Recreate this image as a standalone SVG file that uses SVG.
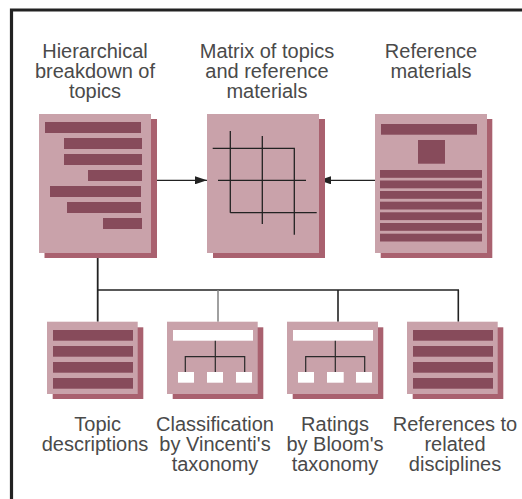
<svg xmlns="http://www.w3.org/2000/svg" width="522" height="499" viewBox="0 0 522 499">
<defs>
<style>
.lbl{font-family:"Liberation Sans",Arial,sans-serif;font-size:20px;fill:#4a4a4a;text-anchor:middle}
.front{fill:#c9a2aa}
.shadow{fill:#a9616f}
.bar{fill:#874b5b}
.wbar{fill:#ffffff}
.grid{stroke:#222;stroke-width:1.3;fill:none}
.tree{stroke:#2a2a2a;stroke-width:1.2;fill:none}
.conn{stroke:#222;fill:none}
</style>
<marker id="ah" viewBox="0 0 12 8" refX="12" refY="4" markerWidth="12" markerHeight="8" markerUnits="userSpaceOnUse" orient="auto">
<path d="M0,0 L12,4 L0,8 Z" fill="#222"/>
</marker>
</defs>
<rect width="522" height="499" fill="#ffffff"/>
<g id="frame">
<path d="M11.5,499 V10 H522" fill="none" stroke="#222" stroke-width="3.2"/>
</g>

<g id="connectors">
<line class="conn" x1="151" y1="180.3" x2="207" y2="180.3" stroke-width="1.3" marker-end="url(#ah)"/>
<line class="conn" x1="375" y1="180.3" x2="319" y2="180.3" stroke-width="1.3" marker-end="url(#ah)"/>
<line class="conn" x1="97.7" y1="258" x2="97.7" y2="321.7" stroke-width="1.8"/>
<line class="conn" x1="97.7" y1="290" x2="459" y2="290" stroke-width="1.4"/>
<line x1="218" y1="290" x2="218" y2="321.7" stroke="#808080" stroke-width="1.5"/>
<line class="conn" x1="338" y1="290" x2="338" y2="321.7" stroke-width="1.6"/>
<line class="conn" x1="458.3" y1="290" x2="458.3" y2="321.7" stroke-width="1.6"/>
</g>

<g id="hierarchical">
<text class="lbl" x="95" y="57.5">Hierarchical</text>
<text class="lbl" x="95" y="78">breakdown of</text>
<text class="lbl" x="95" y="98">topics</text>
<rect class="shadow" x="44.5" y="119" width="112.5" height="139"/>
<rect class="front" x="39" y="114" width="112" height="139"/>
<rect class="bar" x="45" y="122" width="96" height="11"/>
<rect class="bar" x="64" y="138" width="78" height="11"/>
<rect class="bar" x="64" y="154" width="78" height="11"/>
<rect class="bar" x="88" y="170" width="54" height="11"/>
<rect class="bar" x="50" y="186" width="91" height="11"/>
<rect class="bar" x="67" y="202" width="74" height="11"/>
<rect class="bar" x="103" y="218" width="39" height="11"/>
</g>

<g id="matrix">
<text class="lbl" x="267" y="57.5">Matrix of topics</text>
<text class="lbl" x="267" y="78">and reference</text>
<text class="lbl" x="267" y="98">materials</text>
<rect class="shadow" x="213" y="119" width="112" height="139"/>
<rect class="front" x="207" y="114" width="112" height="139"/>
<path class="grid" d="M230.3,131 V212.7 M262.3,136 V224 M294.3,147.7 V234.7 M212.7,148.3 H294.3 M218,180.3 H306 M230.3,212.7 H316.7"/>
</g>

<g id="reference">
<text class="lbl" x="431" y="57.5">Reference</text>
<text class="lbl" x="431" y="78">materials</text>
<rect class="shadow" x="380.7" y="119" width="111.6" height="139"/>
<rect class="front" x="375" y="114" width="112" height="139"/>
<rect class="bar" x="381" y="124" width="96" height="10.7"/>
<rect class="bar" x="418" y="140" width="27" height="23.7"/>
<rect class="bar" x="380" y="170" width="102" height="7.8"/>
<rect class="bar" x="380" y="180.5" width="102" height="7.8"/>
<rect class="bar" x="380" y="191" width="102" height="7.8"/>
<rect class="bar" x="380" y="201.7" width="102" height="7.8"/>
<rect class="bar" x="380" y="212.3" width="102" height="7.8"/>
<rect class="bar" x="380" y="223" width="102" height="7.8"/>
<rect class="bar" x="380" y="233.7" width="102" height="7.8"/>
</g>

<g id="topic-descriptions">
<rect class="shadow" x="52.7" y="327.3" width="90.6" height="71.7"/>
<rect class="front" x="47" y="321.7" width="90.7" height="72.3"/>
<rect class="bar" x="53" y="330" width="80" height="10.7"/>
<rect class="bar" x="53" y="346" width="80" height="10.7"/>
<rect class="bar" x="53" y="362" width="80" height="10.7"/>
<rect class="bar" x="53" y="378" width="80" height="10.7"/>
<text class="lbl" x="97.7" y="430.5">Topic</text>
<text class="lbl" x="95" y="450.5">descriptions</text>
</g>

<g id="classification">
<rect class="shadow" x="172.7" y="327.3" width="90.6" height="71.7"/>
<rect class="front" x="167" y="321.7" width="90.7" height="72.3"/>
<rect class="wbar" x="173" y="330" width="80" height="10.7"/>
<path class="tree" d="M215.3,340.7 V372 M185.3,372 V356.7 H244.7 V372"/>
<rect class="wbar" x="178" y="372" width="16" height="10.7"/>
<rect class="wbar" x="207" y="372" width="16" height="10.7"/>
<rect class="wbar" x="236" y="372" width="16" height="10.7"/>
<text class="lbl" x="215" y="430.5">Classification</text>
<text class="lbl" x="215" y="450.5">by Vincenti's</text>
<text class="lbl" x="215" y="470.5">taxonomy</text>
</g>

<g id="ratings">
<rect class="shadow" x="292.7" y="327.3" width="90.6" height="71.7"/>
<rect class="front" x="287" y="321.7" width="91" height="72.3"/>
<rect class="wbar" x="293" y="330" width="80" height="10.7"/>
<path class="tree" d="M335.3,340.7 V372 M305.7,372 V356.7 H364.7 V372"/>
<rect class="wbar" x="298" y="372" width="16" height="10.7"/>
<rect class="wbar" x="327" y="372" width="16.7" height="10.7"/>
<rect class="wbar" x="356" y="372" width="16" height="10.7"/>
<text class="lbl" x="335" y="430.5">Ratings</text>
<text class="lbl" x="335" y="450.5">by Bloom's</text>
<text class="lbl" x="335" y="470.5">taxonomy</text>
</g>

<g id="references">
<rect class="shadow" x="412.7" y="327.3" width="90.6" height="71.7"/>
<rect class="front" x="407" y="321.7" width="90.7" height="72.3"/>
<rect class="bar" x="413" y="330" width="80" height="10.7"/>
<rect class="bar" x="413" y="346" width="80" height="10.7"/>
<rect class="bar" x="413" y="362" width="80" height="10.7"/>
<rect class="bar" x="413" y="378" width="80" height="10.7"/>
<text class="lbl" x="455" y="430.5">References to</text>
<text class="lbl" x="455" y="450.5">related</text>
<text class="lbl" x="455" y="470.5">disciplines</text>
</g>
</svg>
